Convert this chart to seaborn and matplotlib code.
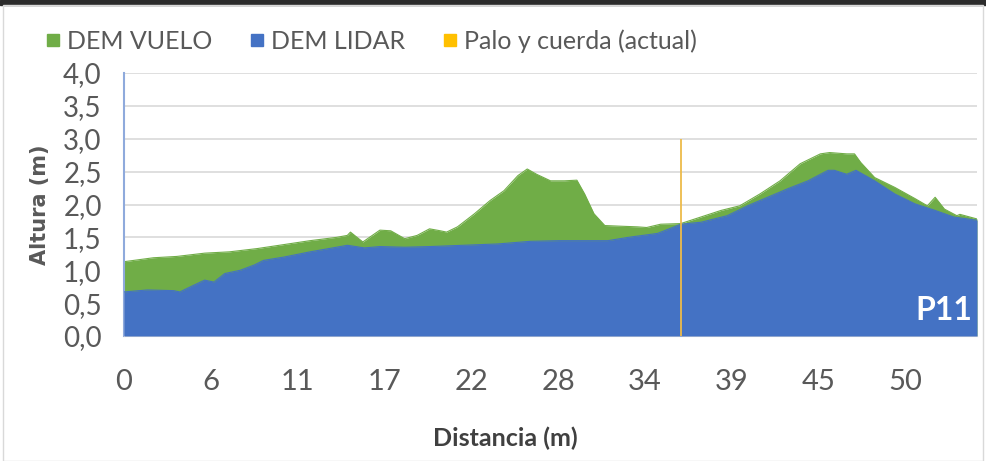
import numpy as np
import matplotlib
matplotlib.use("Agg")
import matplotlib.pyplot as plt
import seaborn as sns
from matplotlib.lines import Line2D
from matplotlib.patches import Rectangle
from matplotlib.ticker import MultipleLocator, FuncFormatter

sns.set_style("white")
plt.rcParams["font.family"] = ["Lato", "DejaVu Sans"]

# DEM VUELO profile (distance m, height m)
vuelo_d = [0, 1.9, 3.4, 5.2, 6.8, 8.6, 10.3, 12.0, 13.7, 14.4, 14.6, 15.4, 16.5, 17.2,
           18.1, 18.9, 19.7, 20.4, 20.8, 21.5, 22.6, 23.6, 24.5, 25.4, 26.0, 26.6, 27.5,
           28.4, 29.2, 29.7, 30.3, 31.0, 32.0, 33.1, 33.7, 34.6, 35.9, 37.2, 38.5, 39.7,
           41.0, 42.3, 43.6, 44.9, 45.5, 46.6, 47.1, 47.5, 48.4, 49.7, 51.0, 51.8, 52.3,
           52.9, 53.7, 53.9, 55.0]
vuelo_h = [1.13, 1.19, 1.21, 1.26, 1.28, 1.33, 1.39, 1.45, 1.50, 1.53, 1.58, 1.43, 1.61,
           1.60, 1.48, 1.53, 1.63, 1.60, 1.58, 1.66, 1.86, 2.06, 2.21, 2.44, 2.54, 2.46,
           2.36, 2.36, 2.37, 2.16, 1.86, 1.68, 1.67, 1.66, 1.65, 1.70, 1.71, 1.81, 1.91,
           1.98, 2.16, 2.36, 2.62, 2.77, 2.79, 2.77, 2.77, 2.64, 2.41, 2.26, 2.09, 1.98,
           2.11, 1.93, 1.83, 1.85, 1.78]

# DEM LIDAR profile
lidar_d = [0, 1.5, 3.2, 3.6, 4.3, 5.2, 5.8, 6.5, 7.5, 8.4, 9.0, 10.3, 12.0, 13.7, 14.4,
           15.5, 16.5, 18.1, 19.7, 21.9, 24.1, 26.2, 28.1, 31.2, 32.5, 34.4, 35.9, 37.2,
           38.9, 40.2, 41.5, 42.8, 44.1, 45.4, 45.8, 46.6, 47.2, 48.4, 49.7, 51.0, 52.3,
           53.5, 55.0]
lidar_h = [0.67, 0.70, 0.69, 0.67, 0.75, 0.85, 0.82, 0.95, 1.00, 1.08, 1.15, 1.20, 1.28,
           1.35, 1.38, 1.34, 1.36, 1.35, 1.36, 1.38, 1.40, 1.44, 1.45, 1.45, 1.50, 1.56,
           1.70, 1.73, 1.83, 1.98, 2.11, 2.24, 2.36, 2.52, 2.52, 2.46, 2.52, 2.36, 2.16,
           2.01, 1.91, 1.81, 1.76]

# "Palo y cuerda (actual)" marker
palo_d = 35.9
palo_top = 3.0

tick_pos = [0, 5.6, 11.2, 16.8, 22.4, 28.0, 33.6, 39.2, 44.8, 50.4]
tick_labels = ["0", "6", "11", "17", "22", "28", "34", "39", "45", "50"]

GREEN = "#70AD47"
BLUE = "#4472C4"
GOLD = "#FFC000"
TEXT = "#595959"

fig = plt.figure(figsize=(9.86, 4.61), dpi=100)
ax = fig.add_axes([124 / 986, 1 - 336 / 461, (977 - 124) / 986, (336 - 73) / 461])

ax.fill_between(vuelo_d, vuelo_h, 0, color=GREEN, lw=0, zorder=2)
sns.lineplot(x=vuelo_d, y=vuelo_h, color=GREEN, lw=0.8, ax=ax, zorder=2)
ax.fill_between(lidar_d, lidar_h, 0, color=BLUE, lw=0, zorder=3)
sns.lineplot(x=lidar_d, y=lidar_h, color=BLUE, lw=0.8, ax=ax, zorder=3)
ax.vlines(palo_d, 0, palo_top, color="#EDBB4A", lw=1.3, zorder=4)

ax.set_xlim(0, 55)
ax.set_ylim(0, 4)
ax.set_xticks(tick_pos)
ax.set_xticklabels(tick_labels)
ax.yaxis.set_major_locator(MultipleLocator(0.5))
ax.yaxis.set_minor_locator(MultipleLocator(0.1))
ax.yaxis.set_major_formatter(FuncFormatter(lambda v, p: f"{v:.1f}".replace(".", ",")))
ax.grid(axis="y", color="#D9D9D9", lw=1.2, zorder=0)
ax.set_axisbelow(True)

ax.tick_params(axis="x", length=0, pad=24, labelsize=21, labelcolor=TEXT)
ax.tick_params(axis="y", which="major", direction="in", length=5, width=1,
               color="#8FAADC", pad=16, labelsize=20, labelcolor=TEXT)
ax.tick_params(axis="y", which="minor", direction="in", length=3, width=1, color="#8FAADC")
for s in ["top", "right"]:
    ax.spines[s].set_visible(False)
ax.spines["left"].set_color("#8FAADC")
ax.spines["left"].set_linewidth(1.5)
ax.spines["bottom"].set_color("#D9D9D9")

ax.set_ylabel("Altura (m)", family="DejaVu Sans", fontsize=15, fontweight="bold",
              color=TEXT)
ax.yaxis.set_label_coords(-74 / 853, 0.5)
ax.set_xlabel("")
fig.text(505 / 986, 1 - 438 / 461, "Distancia (m)", ha="center", va="center",
         fontsize=18, fontweight="bold", color="#404040")

ax.text(0.994, 0.04, "P11", transform=ax.transAxes, ha="right", va="bottom",
        fontsize=23, fontweight="bold", color="white", zorder=5)

handles = [Line2D([], [], marker="s", ls="none", color=c, markersize=9)
           for c in (GREEN, BLUE, GOLD)]
fig.legend(handles, ["DEM VUELO", "DEM LIDAR", "Palo y cuerda (actual)"],
           loc="center left", bbox_to_anchor=(32 / 986, 1 - 41 / 461), ncol=3,
           frameon=False, fontsize=18, labelcolor=TEXT, handletextpad=0.1,
           columnspacing=1.35, handlelength=0.9, borderaxespad=0)

# screenshot frame
fig.patches.append(Rectangle((0, 1 - 5 / 461), 1, 5 / 461, transform=fig.transFigure,
                             color="#2B2B2B", zorder=0))
fig.patches.append(Rectangle((3 / 986, 0), 980 / 986, 1 - 5 / 461, transform=fig.transFigure,
                             fill=False, ec="#D9D9D9", lw=1, zorder=0))

fig.savefig("out.png", dpi=100)
